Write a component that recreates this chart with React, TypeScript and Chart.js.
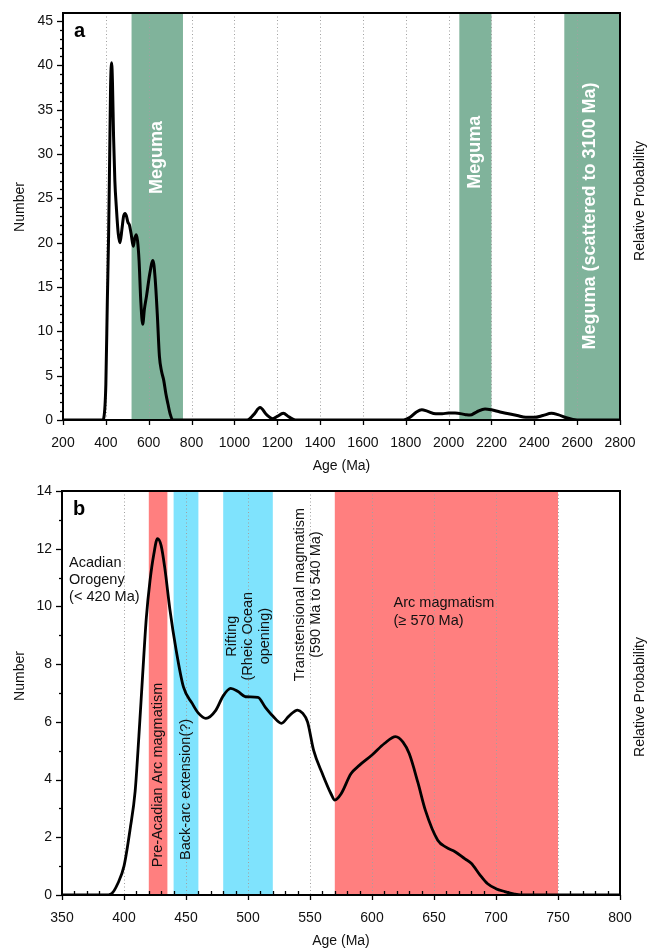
import React, { useEffect, useRef } from "react";
import { Chart, registerables } from "chart.js";
Chart.register(...registerables);

const FONT = "'Liberation Sans', Arial, sans-serif";

// ---------- Panel a data ----------
const agesA = [200, 385, 391, 400, 407, 413, 418, 422, 427, 431, 436, 442, 449, 458, 466, 475, 483, 490, 496, 503, 510, 518, 528, 535, 542, 548, 555, 563, 572, 580, 590, 605, 620, 630, 640, 650, 660, 670, 680, 690, 700, 712, 1060, 1090, 1120, 1150, 1180, 1200, 1228, 1255, 1285, 1790, 1820, 1850, 1875, 1900, 1940, 1970, 2000, 2030, 2080, 2100, 2130, 2170, 2200, 2240, 2280, 2320, 2360, 2400, 2440, 2480, 2510, 2550, 2580, 2600, 2800];
const countsA = [0, 0, 0.3, 4, 13.5, 21, 30, 37.5, 40.3, 38, 32, 27, 24, 21, 20, 21.5, 23, 23.3, 23, 22.3, 22, 21, 19.6, 20.5, 20.9, 20.2, 18, 13.5, 10.8, 12.5, 14, 16.5, 18, 16, 12, 7.2, 5.5, 4.5, 3, 1.8, 0.7, 0, 0, 0.6, 1.4, 0.6, 0.15, 0.4, 0.75, 0.35, 0, 0, 0.3, 0.9, 1.15, 1.0, 0.7, 0.7, 0.8, 0.8, 0.6, 0.55, 0.9, 1.25, 1.15, 0.9, 0.7, 0.5, 0.3, 0.3, 0.5, 0.75, 0.6, 0.25, 0.05, 0, 0];
const bandStartA = [520, 2050, 2540];
const bandEndA = [760, 2200, 2800];
const bandColorA = ["#80b39b", "#80b39b", "#80b39b"];
const bandLabelA = ["Meguma", "Meguma", "Meguma (scattered to 3100 Ma)"];

// ---------- Panel b data ----------
const agesB = [350, 385, 390, 395, 400, 405, 409, 412, 415, 418, 421, 424, 427, 430, 433, 437, 442, 448, 455, 460, 466, 474, 480, 486, 492, 498, 508, 514, 520, 527, 533, 540, 544, 548, 553, 560, 567, 570, 575, 583, 590, 600, 610, 619, 625, 630, 637, 643, 653, 660, 667, 675, 680, 687, 693, 700, 707, 715, 720, 800];
const countsB = [0, 0, 0.05, 0.4, 1.0, 2.3, 3.6, 5.5, 7.6, 9.6, 10.9, 11.8, 12.35, 12.1, 11.3, 9.9, 8.5, 7.2, 6.64, 6.3, 6.12, 6.4, 6.9, 7.16, 7.05, 6.87, 6.85, 6.5, 6.2, 5.95, 6.2, 6.41, 6.3, 6.0, 5.0, 4.2, 3.5, 3.29, 3.5, 4.2, 4.5, 4.85, 5.25, 5.49, 5.3, 4.9, 3.9, 2.94, 1.9, 1.65, 1.5, 1.25, 1.1, 0.7, 0.4, 0.22, 0.12, 0.03, 0, 0];
const bandStartB = [420, 440, 480, 570];
const bandEndB = [435, 460, 520, 750];
const bandColorB = ["#ff7f7f", "#7fe3fd", "#7fe3fd", "#ff7f7f"];

type Note = {
  lines: string[];
  x: number; // data units
  y: number; // data units
  rotate: boolean;
  align: CanvasTextAlign;
  anchor: "center" | "first";
  font: string;
  color: string;
  gap: number;
};

type Deco = {
  bandStart: number[];
  bandEnd: number[];
  bandColor: string[];
  xMajor: number;
  xMinor: number; // 0 = none; minor x ticks drawn inward
  yMajor: number;
  yMinor: number;
  notes: Note[];
  panel: string;
  numberOffset: number;
  relOffset: number;
};

function drawNote(ctx: CanvasRenderingContext2D, px: number, py: number, n: Note) {
  ctx.save();
  ctx.translate(px, py);
  if (n.rotate) ctx.rotate(-Math.PI / 2);
  ctx.font = n.font;
  ctx.fillStyle = n.color;
  ctx.textAlign = n.align;
  ctx.textBaseline = "middle";
  const L = n.lines.length;
  n.lines.forEach((t, i) => {
    const off = n.anchor === "center" ? (i - (L - 1) / 2) * n.gap : i * n.gap;
    ctx.fillText(t, 0, off);
  });
  ctx.restore();
}

function decoPlugin(d: Deco) {
  return {
    id: "deco",
    beforeDatasetsDraw(chart: any) {
      const { ctx, chartArea: a } = chart;
      const xs = chart.scales.x;
      const ys = chart.scales.y;
      ctx.save();
      d.bandStart.forEach((s, i) => {
        const x0 = xs.getPixelForValue(s);
        const x1 = xs.getPixelForValue(d.bandEnd[i]);
        ctx.fillStyle = d.bandColor[i];
        ctx.fillRect(x0, a.top, x1 - x0, a.bottom - a.top);
      });
      ctx.strokeStyle = "#a0a0a0";
      ctx.lineWidth = 1;
      ctx.setLineDash([1, 2.5]);
      for (let v = xs.min + d.xMajor; v < xs.max - 1e-6; v += d.xMajor) {
        const px = Math.round(xs.getPixelForValue(v)) + 0.5;
        ctx.beginPath();
        ctx.moveTo(px, a.top);
        ctx.lineTo(px, a.bottom);
        ctx.stroke();
      }
      ctx.setLineDash([]);
      d.notes.forEach((n) => drawNote(ctx, xs.getPixelForValue(n.x), ys.getPixelForValue(n.y), n));
      ctx.restore();
    },
    afterDraw(chart: any) {
      const { ctx, chartArea: a } = chart;
      const xs = chart.scales.x;
      const ys = chart.scales.y;
      ctx.save();
      ctx.strokeStyle = "#000";
      ctx.lineWidth = 1.3;
      // major x ticks (outward)
      for (let v = xs.min; v <= xs.max + 1e-6; v += d.xMajor) {
        const px = Math.round(xs.getPixelForValue(v)) + 0.5;
        ctx.beginPath();
        ctx.moveTo(px, a.bottom);
        ctx.lineTo(px, a.bottom + 5);
        ctx.stroke();
      }
      // minor x ticks (inward)
      if (d.xMinor > 0) {
        for (let v = xs.min; v <= xs.max + 1e-6; v += d.xMinor) {
          const q = (v - xs.min) / d.xMajor;
          if (Math.abs(q - Math.round(q)) < 1e-6) continue;
          const px = Math.round(xs.getPixelForValue(v)) + 0.5;
          ctx.beginPath();
          ctx.moveTo(px, a.bottom);
          ctx.lineTo(px, a.bottom - 4);
          ctx.stroke();
        }
      }
      // y ticks (outward)
      for (let v = ys.min; v <= ys.max + 1e-6; v += d.yMinor) {
        const q = v / d.yMajor;
        const major = Math.abs(q - Math.round(q)) < 1e-6;
        const py = Math.round(ys.getPixelForValue(v)) + 0.5;
        ctx.beginPath();
        ctx.moveTo(a.left, py);
        ctx.lineTo(a.left - (major ? 6 : 3), py);
        ctx.stroke();
      }
      ctx.lineWidth = 2;
      ctx.strokeRect(a.left, a.top, a.right - a.left, a.bottom - a.top);
      ctx.fillStyle = "#000";
      ctx.font = `bold 20px ${FONT}`;
      ctx.textAlign = "left";
      ctx.textBaseline = "alphabetic";
      ctx.fillText(d.panel, a.left + 11, a.top + 24);
      ctx.fillStyle = "#111";
      ctx.font = `14px ${FONT}`;
      ctx.textAlign = "center";
      ctx.textBaseline = "middle";
      ctx.fillText("Age (Ma)", (a.left + a.right) / 2, a.bottom + 46);
      ctx.save();
      ctx.translate(20, a.top + d.numberOffset);
      ctx.rotate(-Math.PI / 2);
      ctx.fillText("Number", 0, 0);
      ctx.restore();
      ctx.save();
      ctx.translate(640, a.top + d.relOffset);
      ctx.rotate(-Math.PI / 2);
      ctx.fillText("Relative Probability", 0, 0);
      ctx.restore();
      ctx.restore();
    },
  };
}

function buildConfig(
  ages: number[],
  counts: number[],
  xmin: number,
  xmax: number,
  xstep: number,
  ymax: number,
  ystep: number,
  lineWidth: number,
  yWidth: number,
  xHeight: number,
  padTop: number,
  deco: Deco
): any {
  return {
    type: "line",
    data: {
      datasets: [
        {
          data: ages.map((a, i) => ({ x: a, y: counts[i] })),
          borderColor: "#000",
          borderWidth: lineWidth,
          pointRadius: 0,
          cubicInterpolationMode: "monotone",
          fill: false,
        },
      ],
    },
    options: {
      animation: false,
      responsive: false,
      devicePixelRatio: 1,
      layout: { padding: { top: padTop, right: 28, left: 0, bottom: 0 } },
      plugins: { legend: { display: false }, tooltip: { enabled: false } },
      scales: {
        x: {
          type: "linear",
          min: xmin,
          max: xmax,
          grid: { display: false, drawTicks: false },
          border: { display: false },
          ticks: {
            stepSize: xstep,
            autoSkip: false,
            maxRotation: 0,
            padding: 15,
            color: "#111",
            font: { family: FONT, size: 14 },
            callback: (v: any) => String(v),
          },
          afterFit: (s: any) => {
            s.height = xHeight;
            s.paddingLeft = 0;
            s.paddingRight = 0;
          },
        },
        y: {
          type: "linear",
          min: 0,
          max: ymax,
          grid: { display: false, drawTicks: false },
          border: { display: false },
          ticks: {
            stepSize: ystep,
            includeBounds: false,
            padding: 10,
            color: "#111",
            font: { family: FONT, size: 14 },
            callback: (v: any) => String(v),
          },
          afterFit: (s: any) => {
            s.width = yWidth;
            s.paddingTop = 0;
            s.paddingBottom = 0;
          },
        },
      },
    },
    plugins: [decoPlugin(deco)],
  };
}

const whiteBold = `bold 18px ${FONT}`;
const plain = `14.5px ${FONT}`;

export default function App() {
  const refA = useRef<HTMLCanvasElement>(null);
  const refB = useRef<HTMLCanvasElement>(null);
  useEffect(() => {
    const decoA: Deco = {
      bandStart: bandStartA,
      bandEnd: bandEndA,
      bandColor: bandColorA,
      xMajor: 200,
      xMinor: 0,
      yMajor: 5,
      yMinor: 1,
      panel: "a",
      numberOffset: 194,
      relOffset: 188,
      notes: [
        { lines: [bandLabelA[0]], x: 640, y: 29.6, rotate: true, align: "center", anchor: "center", font: whiteBold, color: "#fff", gap: 0 },
        { lines: [bandLabelA[1]], x: 2125, y: 30.2, rotate: true, align: "center", anchor: "center", font: whiteBold, color: "#fff", gap: 0 },
        { lines: [bandLabelA[2]], x: 2662, y: 23, rotate: true, align: "center", anchor: "center", font: whiteBold, color: "#fff", gap: 0 },
      ],
    };
    const decoB: Deco = {
      bandStart: bandStartB,
      bandEnd: bandEndB,
      bandColor: bandColorB,
      xMajor: 50,
      xMinor: 10,
      yMajor: 2,
      yMinor: 1,
      panel: "b",
      numberOffset: 185,
      relOffset: 206,
      notes: [
        { lines: ["Acadian", "Orogeny", "(< 420 Ma)"], x: 355.7, y: 11.51, rotate: false, align: "left", anchor: "first", font: plain, color: "#111", gap: 17 },
        { lines: ["Pre-Acadian Arc magmatism"], x: 427.5, y: 4.16, rotate: true, align: "center", anchor: "center", font: plain, color: "#111", gap: 0 },
        { lines: ["Back-arc extension(?)"], x: 450, y: 3.66, rotate: true, align: "center", anchor: "center", font: plain, color: "#111", gap: 0 },
        { lines: ["Rifting", "(Rheic Ocean", "opening)"], x: 500, y: 8.97, rotate: true, align: "center", anchor: "center", font: plain, color: "#111", gap: 16.5 },
        { lines: ["Transtensional magmatism", "(590 Ma to 540 Ma)"], x: 548.3, y: 10.41, rotate: true, align: "center", anchor: "center", font: plain, color: "#111", gap: 16 },
        { lines: ["Arc magmatism", "(\u2265 570 Ma)"], x: 617.4, y: 10.12, rotate: false, align: "left", anchor: "first", font: plain, color: "#111", gap: 18.5 },
      ],
    };
    const a = new Chart(refA.current!, buildConfig(agesA, countsA, 200, 2800, 200, 45.9, 5, 3, 63, 55, 13, decoA));
    const b = new Chart(refB.current!, buildConfig(agesB, countsB, 350, 800, 50, 14, 2, 2.8, 62, 54, 16, decoB));
    return () => {
      a.destroy();
      b.destroy();
    };
  }, []);
  return (
    <div style={{ position: "absolute", left: 0, top: 0, width: 648, height: 949, background: "#fff" }}>
      <canvas ref={refA} width={648} height={475} style={{ position: "absolute", left: 0, top: 0 }} />
      <canvas ref={refB} width={648} height={474} style={{ position: "absolute", left: 0, top: 475 }} />
    </div>
  );
}
